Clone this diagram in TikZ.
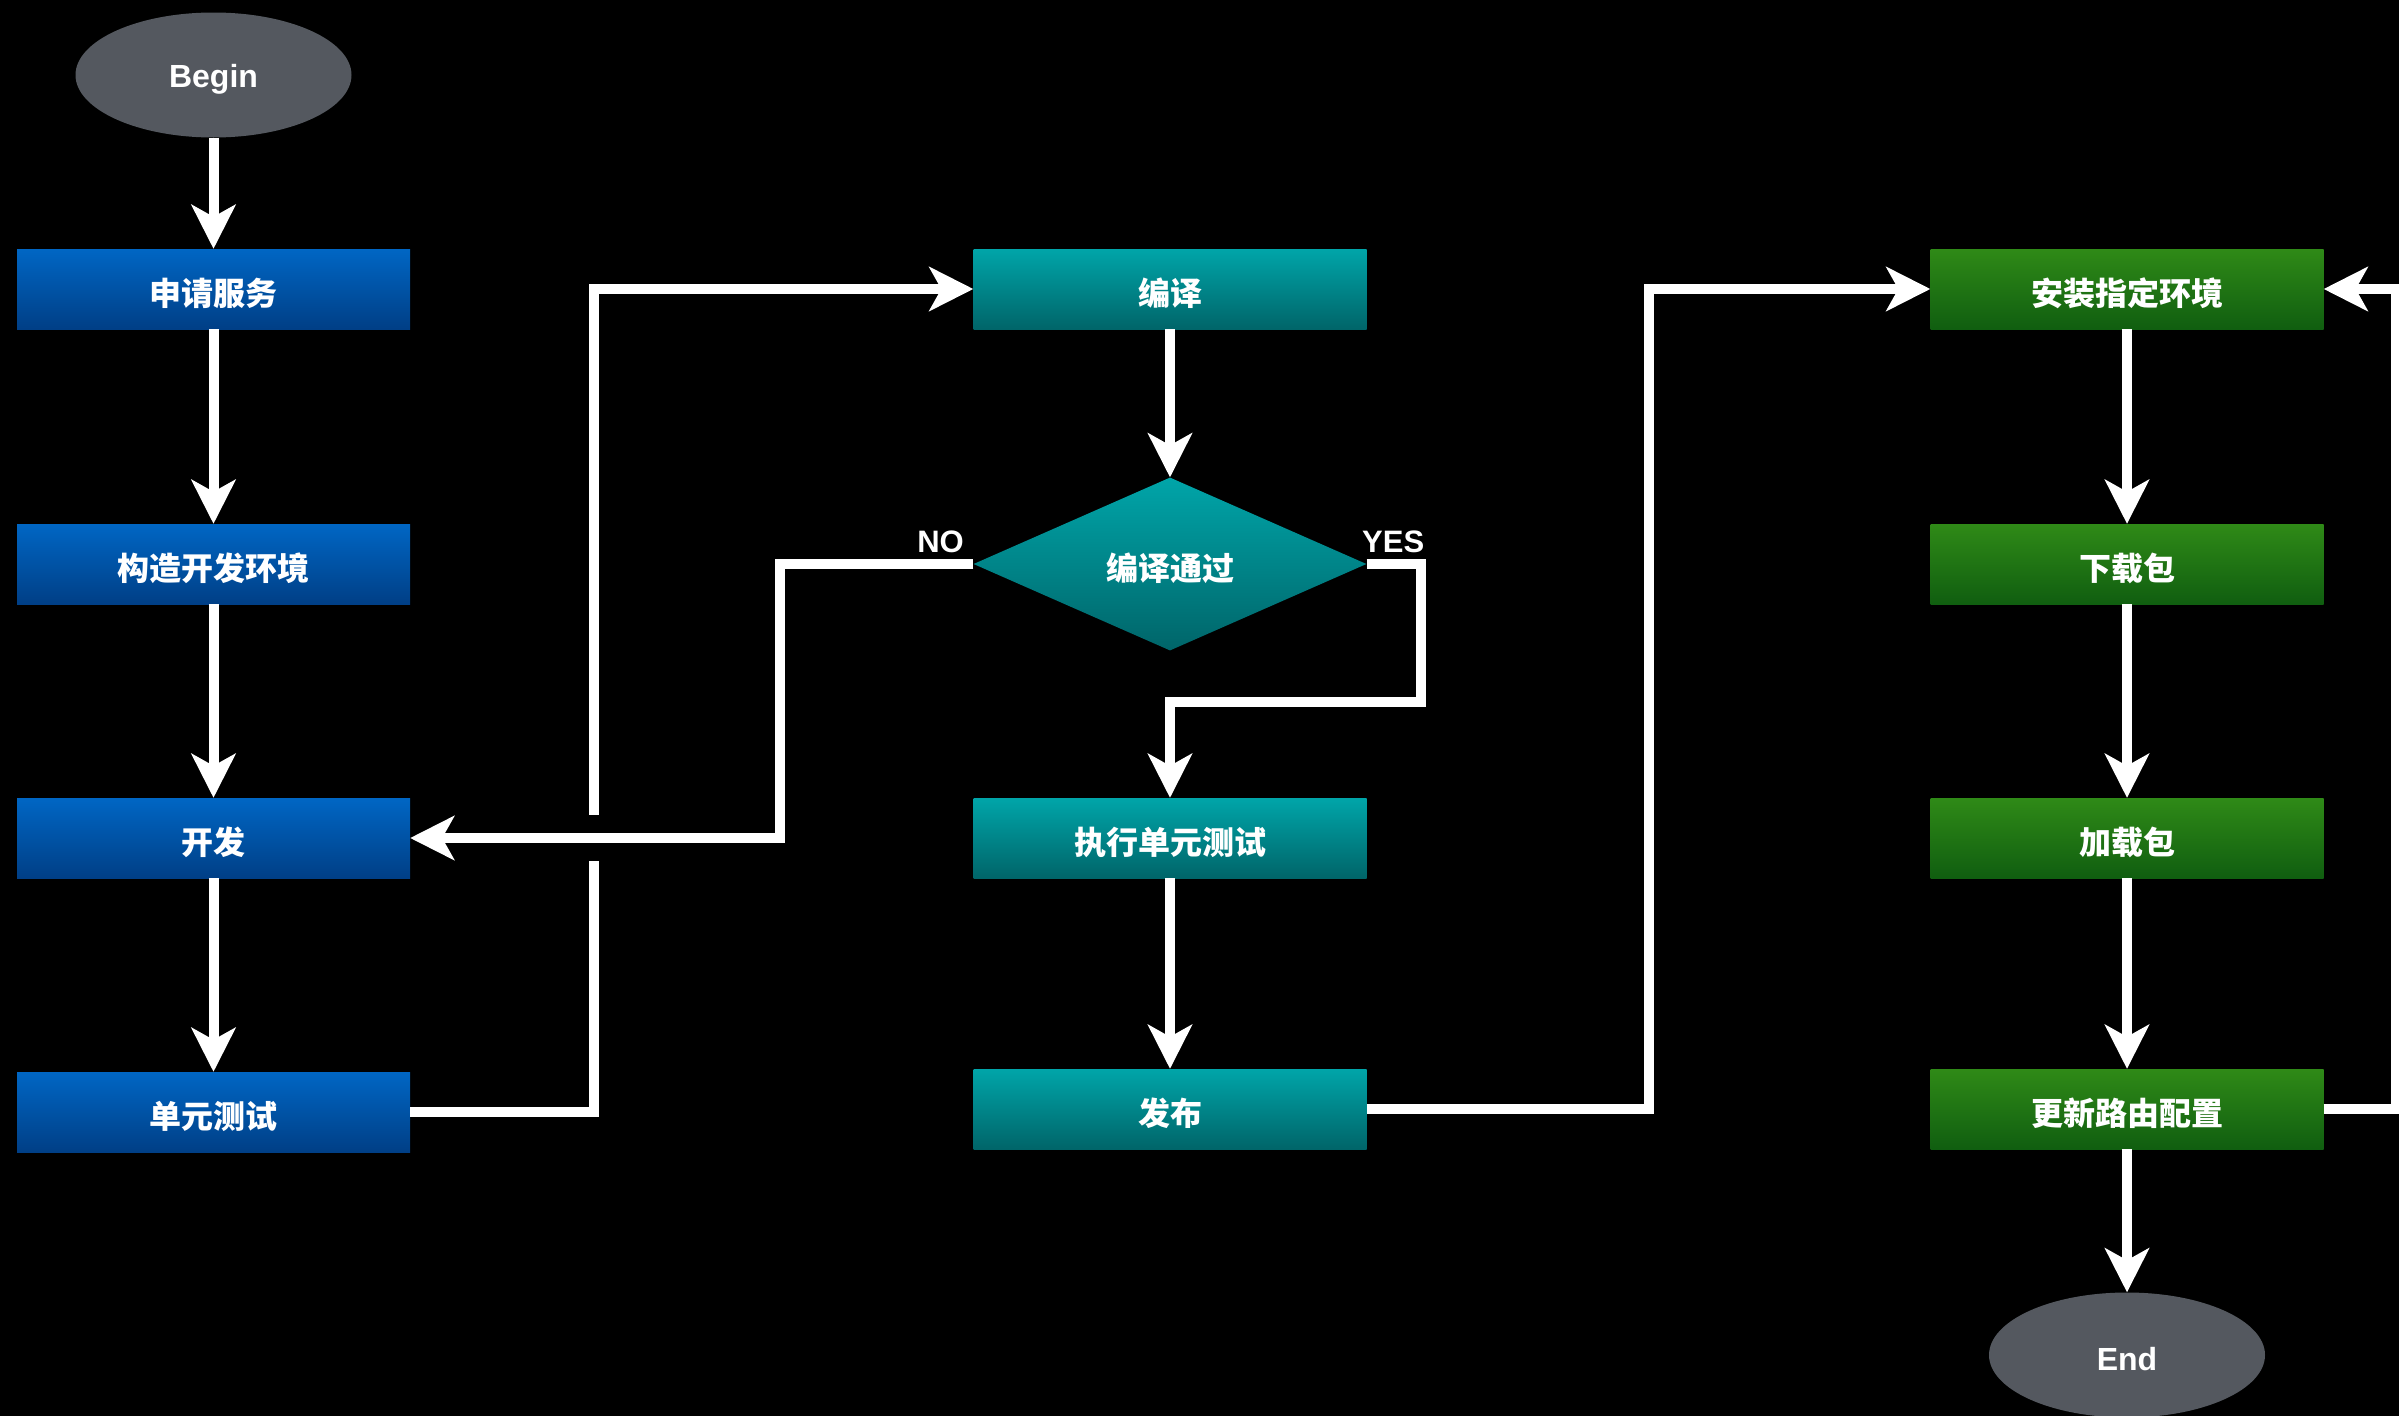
\documentclass[tikz,border=0pt]{standalone}
\usepackage{fontspec}
\setmainfont{Liberation Sans}
\newfontfamily\cjk{Noto Sans CJK SC}
\usetikzlibrary{shapes.geometric, arrows.meta, calc}
\definecolor{bluetop}{HTML}{0066C4}
\definecolor{bluebot}{HTML}{003F86}
\definecolor{tealtop}{HTML}{00A5A9}
\definecolor{tealbot}{HTML}{006569}
\definecolor{greentop}{HTML}{2F8A17}
\definecolor{greenbot}{HTML}{105E10}
\definecolor{ovalgray}{HTML}{54585F}
\newcommand{\lowr}[1]{\raisebox{-4.5pt}[\height][\depth]{#1}}
\begin{document}
\begin{tikzpicture}[x=1pt,y=-1pt,
  box/.style={rectangle, minimum width=393pt, minimum height=80pt, inner sep=0pt, text=white, font=\cjk\bfseries\fontsize{32}{36}\selectfont},
  bluebox/.style={box, top color=bluetop, bottom color=bluebot},
  tealbox/.style={box, top color=tealtop, bottom color=tealbot},
  greenbox/.style={box, top color=greentop, bottom color=greenbot},
  tealdia/.style={diamond, aspect=2.27, minimum width=393pt, minimum height=173pt, inner sep=0pt, top color=tealtop, bottom color=tealbot, text=white, font=\cjk\bfseries\fontsize{32}{36}\selectfont},
  oval/.style={ellipse, fill=ovalgray, minimum width=276pt, minimum height=125pt, inner sep=0pt, text=white, font=\bfseries\fontsize{32}{36}\selectfont},
  conn/.style={draw=white, line width=10pt, -{Stealth[length=44pt,width=44pt,inset=12pt]}},
  lbl/.style={text=white, font=\bfseries\fontsize{31}{34}\selectfont, inner sep=0pt}
]
\useasboundingbox (0,0) rectangle (2399,1416);
\fill[black] (0,0) rectangle (2399,1416);

\node[oval] (begin) at (213.5,75) {\lowr{Begin}};
\node[bluebox] (apply) at (213.5,289) {\lowr{申请服务}};
\node[bluebox] (env) at (213.5,564) {\lowr{构造开发环境}};
\node[bluebox] (dev) at (213.5,838) {\lowr{开发}};
\node[bluebox] (ut) at (213.5,1112) {\lowr{单元测试}};

\node[tealbox] (compile) at (1170,289) {\lowr{编译}};
\node[tealdia] (pass) at (1170,564) {\lowr{编译通过}};
\node[tealbox] (exec) at (1170,838) {\lowr{执行单元测试}};
\node[tealbox] (pub) at (1170,1109) {\lowr{发布}};

\node[greenbox] (install) at (2127,289) {\lowr{安装指定环境}};
\node[greenbox] (dl) at (2127,564) {\lowr{下载包}};
\node[greenbox] (load) at (2127,838) {\lowr{加载包}};
\node[greenbox] (route) at (2127,1109) {\lowr{更新路由配置}};
\node[oval] (end) at (2127,1355) {\lowr{End}};

\node[lbl, anchor=base east] (no) at (964,552.5) {NO};
\node[lbl, anchor=base west] (yes) at (1362,552.5) {YES};

\coordinate (r1) at (594,0);
\coordinate (r2) at (780,0);
\coordinate (r3) at (1421,702);
\coordinate (r4) at (1649,0);
\coordinate (r5) at (2396,0);

\draw[conn] (begin) -- (apply);
\draw[conn] (apply) -- (env);
\draw[conn] (env) -- (dev);
\draw[conn] (dev) -- (ut);

\draw[conn] (ut.east) -| (r1 |- compile.west) -- (compile.west);
\draw[black, line width=16pt] ($(r1 |- dev.east)+(0,-23)$) -- ($(r1 |- dev.east)+(0,23)$);

\draw[conn] (compile) -- (pass);
\draw[conn] (pass.west) -| (r2 |- dev.east) -- (dev.east);
\draw[conn] (pass.east) -| (r3) -| (exec.north);
\draw[conn] (exec) -- (pub);
\draw[conn] (pub.east) -| (r4 |- install.west) -- (install.west);

\draw[conn] (install) -- (dl);
\draw[conn] (dl) -- (load);
\draw[conn] (load) -- (route);
\draw[conn] (route) -- (end);
\draw[conn] (route.east) -| (r5 |- install.east) -- (install.east);
\end{tikzpicture}
\end{document}
